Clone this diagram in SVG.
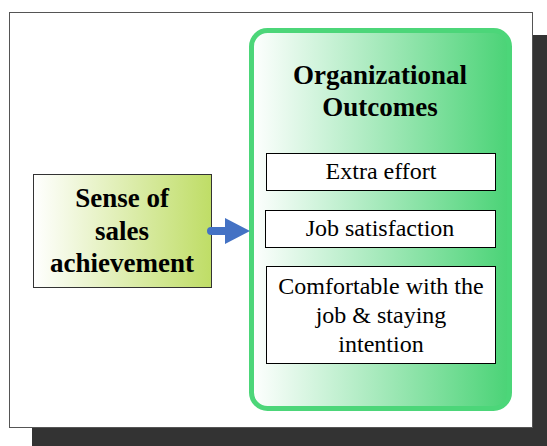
<svg xmlns="http://www.w3.org/2000/svg" width="547" height="446" viewBox="0 0 547 446">
<defs>
<linearGradient id="gGreen" x1="0" y1="0" x2="1" y2="0">
<stop offset="0" stop-color="#ffffff"/>
<stop offset="1" stop-color="#4ad376"/>
</linearGradient>
<linearGradient id="gLime" x1="0" y1="0" x2="1" y2="0">
<stop offset="0" stop-color="#ffffff"/>
<stop offset="1" stop-color="#bfdd66"/>
</linearGradient>
<style>
.box{fill:#fff;stroke:#000;stroke-width:1}
</style>
</defs>
<rect x="0" y="0" width="547" height="446" fill="#fff"/>
<rect x="32" y="35" width="515" height="411" fill="#333333"/>
<rect x="9.5" y="12.5" width="523" height="415" fill="#fff" stroke="#555" stroke-width="1"/>
<g id="outcomes" font-family="Liberation Serif, DejaVu Serif, serif" font-weight="bold" font-size="27" text-anchor="middle" fill="#000">
<rect x="251.5" y="30.5" width="258" height="378" rx="16" fill="url(#gGreen)" stroke="#4cd679" stroke-width="5"/>
<text x="380" y="84">Organizational</text>
<text x="380" y="116">Outcomes</text>
</g>
<g id="extra" font-family="Liberation Serif, DejaVu Serif, serif" font-size="24" text-anchor="middle" fill="#000">
<rect class="box" x="266.5" y="153.5" width="229" height="37"/>
<text x="381" y="179">Extra effort</text>
</g>
<g id="job" font-family="Liberation Serif, DejaVu Serif, serif" font-size="24" text-anchor="middle" fill="#000">
<rect class="box" x="265.5" y="210.5" width="230" height="37"/>
<text x="380" y="236">Job satisfaction</text>
</g>
<g id="comfortable" font-family="Liberation Serif, DejaVu Serif, serif" font-size="24" text-anchor="middle" fill="#000">
<rect class="box" x="266.5" y="266.5" width="229" height="97"/>
<text x="381" y="294">Comfortable with the</text>
<text x="381" y="323">job &amp; staying</text>
<text x="381" y="352">intention</text>
</g>
<g id="sense" font-family="Liberation Serif, DejaVu Serif, serif" font-weight="bold" font-size="27" text-anchor="middle" fill="#000">
<rect x="33.5" y="174.5" width="178" height="113" fill="url(#gLime)" stroke="#333" stroke-width="1"/>
<text x="122" y="207">Sense of</text>
<text x="122" y="240">sales</text>
<text x="122" y="272">achievement</text>
</g>
<g id="connectors">
<path d="M211,227 L225,227 L225,218 L250,231 L225,244 L225,235 L211,235 A4,4 0 0 1 211,227 Z" fill="#4472c4"/>
</g>
</svg>
